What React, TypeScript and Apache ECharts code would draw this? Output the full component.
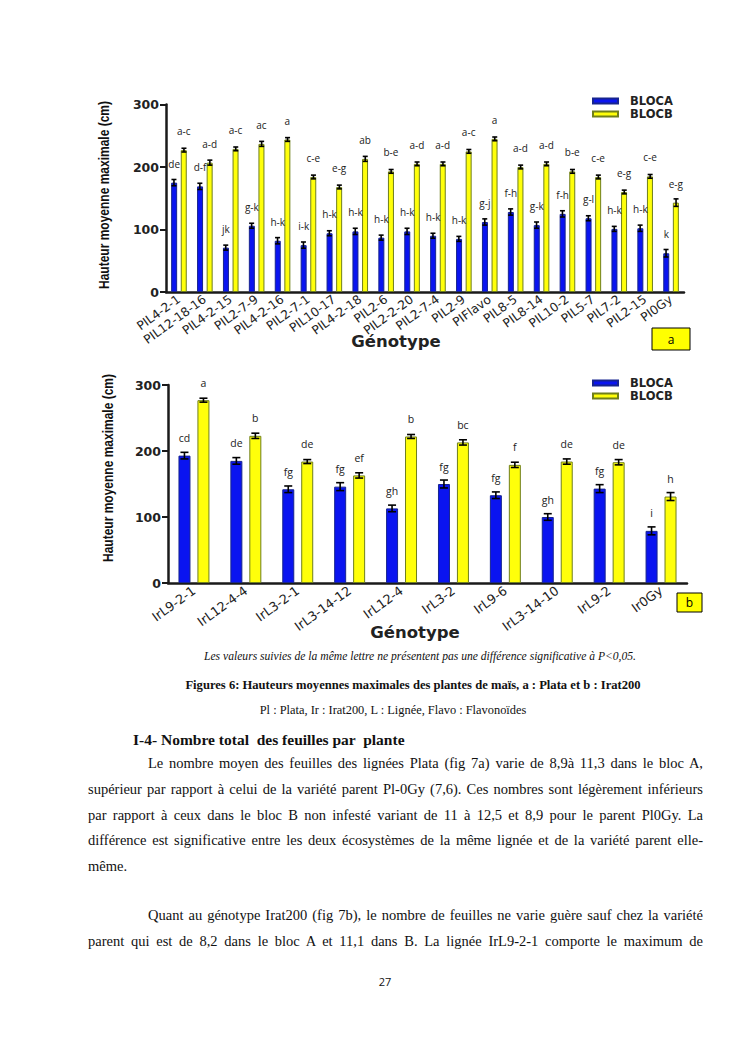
import React, { useEffect, useLayoutEffect, useRef } from "react";
import * as echarts from "echarts";

// ---------- Data ----------
const catsA = ["PIL4-2-1", "PIL12-18-16", "PIL4-2-15", "PIL2-7-9", "PIL4-2-16", "PIL2-7-1", "PIL10-17", "PIL4-2-18", "PIL2-6", "PIL2-2-20", "PIL2-7-4", "PIL2-9", "PIFlavo", "PIL8-5", "PIL8-14", "PIL10-2", "PIL5-7", "PIL7-2", "PIL2-15", "PI0Gy"];
const blocA_a = [175, 169, 71, 106, 82, 75, 94, 97, 87, 97, 90, 85, 112, 128, 107, 125, 118, 101, 102, 62];
const blocB_a = [227, 207, 229, 237, 244, 184, 168, 213, 193, 205, 205, 225, 245, 200, 205, 193, 184, 160, 185, 143];
const errA_a = [5, 5, 4, 4, 5, 5, 4, 5, 4, 5, 4, 4, 5, 5, 5, 5, 4, 4, 5, 6];
const errB_a = [3, 4, 3, 4, 3, 3, 3, 4, 3, 3, 3, 3, 3, 3, 3, 3, 3, 3, 3, 6];
const lettersA_a = ["de", "d-f", "jk", "g-k", "h-k", "i-k", "h-k", "h-k", "h-k", "h-k", "h-k", "h-k", "g-j", "f-h", "g-k", "f-h", "g-l", "h-k", "h-k", "k"];
const lettersB_a = ["a-c", "a-d", "a-c", "ac", "a", "c-e", "e-g", "ab", "b-e", "a-d", "a-d", "a-c", "a", "a-d", "a-d", "b-e", "c-e", "e-g", "c-e", "e-g"];

const catsB = ["IrL9-2-1", "IrL12-4-4", "IrL3-2-1", "IrL3-14-12", "IrL12-4", "IrL3-2", "IrL9-6", "IrL3-14-10", "IrL9-2", "Ir0Gy"];
const blocA_b = [193, 185, 142, 146, 113, 150, 133, 100, 143, 79];
const blocB_b = [277, 223, 184, 163, 222, 213, 179, 184, 183, 131];
const errA_b = [5, 5, 5, 6, 5, 6, 5, 5, 6, 6];
const errB_b = [3, 4, 3, 4, 3, 4, 4, 4, 4, 6];
const lettersA_b = ["cd", "de", "fg", "fg", "gh", "fg", "fg", "gh", "fg", "i"];
const lettersB_b = ["a", "b", "de", "ef", "b", "bc", "f", "de", "de", "h"];

const yTicks = [0, 100, 200, 300];
const yTitle = "Hauteur moyenne maximale (cm)";
const xTitle = "Génotype";
const seriesNames = ["BLOCA", "BLOCB"];

// ---------- Styles ----------
const BLUE = "#0a14f0";
const BLUE_BORDER = "#17248f";
const YELLOW = "#ffff0a";
const YELLOW_BORDER = "#6f7f1c";
const AXIS = "#1a1a1a";
const SANS = "DejaVu Sans";
const LETTER_FONT = "Open Sans";

function errorSeries(xIdx: number, vals: number[], errs: number[], offset: number, cap: number) {
  return {
    type: "custom",
    xAxisIndex: xIdx,
    yAxisIndex: xIdx,
    z: 5,
    silent: true,
    encode: { x: 0, y: 1 },
    data: vals.map((v, i) => [i, v, errs[i]]),
    renderItem: (params: any, api: any) => {
      const i = api.value(0);
      const v = api.value(1);
      const e = api.value(2);
      const top = api.coord([i, v + e]);
      const bot = api.coord([i, v - e]);
      const x = top[0] + offset;
      const st = { stroke: "#000", lineWidth: 1.6 };
      return {
        type: "group",
        children: [
          { type: "line", shape: { x1: x, y1: top[1], x2: x, y2: bot[1] }, style: st },
          { type: "line", shape: { x1: x - cap, y1: top[1], x2: x + cap, y2: top[1] }, style: st },
          { type: "line", shape: { x1: x - cap, y1: bot[1], x2: x + cap, y2: bot[1] }, style: st },
        ],
      };
    },
  };
}

function barSeries(name: string, xIdx: number, vals: number[], letters: string[], color: string, border: string, width: number, gap: string, fs: number, dist: number) {
  return {
    name,
    type: "bar",
    xAxisIndex: xIdx,
    yAxisIndex: xIdx,
    barWidth: width,
    barGap: gap,
    data: vals,
    itemStyle: { color, borderColor: border, borderWidth: 1 },
    label: {
      show: true,
      position: "top",
      distance: dist,
      formatter: (p: any) => letters[p.dataIndex],
      fontFamily: LETTER_FONT,
      fontSize: fs,
      color: "#222",
    },
  };
}

function xAxis(gridIndex: number, cats: string[], fs: number) {
  return {
    type: "category",
    gridIndex,
    data: cats,
    boundaryGap: true,
    axisLine: { lineStyle: { color: AXIS, width: 2.5 } },
    axisTick: { alignWithLabel: true, length: 4, lineStyle: { color: AXIS, width: 2 } },
    axisLabel: { interval: 0, rotate: 36, fontFamily: SANS, fontSize: fs, color: "#222", margin: 6 },
  };
}

function yAxis(gridIndex: number) {
  return {
    type: "value",
    gridIndex,
    min: yTicks[0],
    max: yTicks[yTicks.length - 1],
    interval: 100,
    splitLine: { show: false },
    axisLine: { show: true, lineStyle: { color: AXIS, width: 2.5 } },
    axisTick: { show: true, length: 6, lineStyle: { color: AXIS, width: 2 } },
    axisLabel: { fontFamily: SANS, fontSize: 12.5, fontWeight: "bold", color: "#222", margin: 7 },
  };
}

function yTitleText(x: number, y: number) {
  return {
    type: "text",
    x,
    y,
    rotation: Math.PI / 2,
    scaleX: 0.8,
    style: { text: yTitle, fontFamily: "Liberation Sans", fontWeight: "bold", fontSize: 15, fill: "#111", align: "center", verticalAlign: "middle" },
  };
}

function Charts() {
  const ref = useRef<HTMLDivElement>(null);
  useEffect(() => {
    if (!ref.current) return;
    const chart = echarts.init(ref.current, undefined, { renderer: "svg" });
    const legendBase = {
      orient: "vertical",
      left: 587,
      itemWidth: 25,
      itemHeight: 5,
      itemGap: 1,
      icon: "rect",
      data: seriesNames,
      selectedMode: false,
      textStyle: { fontFamily: SANS, fontSize: 11.5, fontWeight: "bold", color: "#222", padding: [0, 0, 0, 7] },
    };
    chart.setOption({
      animation: false,
      backgroundColor: "transparent",
      grid: [
        { left: 166, top: 104.5, width: 518, height: 187.5 },
        { left: 168, top: 385, width: 519, height: 198 },
      ],
      xAxis: [xAxis(0, catsA, 12.3), xAxis(1, catsB, 12.8)],
      yAxis: [yAxis(0), yAxis(1)],
      legend: [
        { ...legendBase, top: 90 },
        { ...legendBase, top: 372 },
      ],
      series: [
        barSeries(seriesNames[0], 0, blocA_a, lettersA_a, BLUE, BLUE_BORDER, 6, "60%", 10, 14),
        barSeries(seriesNames[1], 0, blocB_a, lettersB_a, YELLOW, YELLOW_BORDER, 6, "60%", 10, 14),
        errorSeries(0, blocA_a, errA_a, -5, 2.5),
        errorSeries(0, blocB_a, errB_a, 5, 2.5),
        barSeries(seriesNames[0], 1, blocA_b, lettersA_b, BLUE, BLUE_BORDER, 12, "58%", 10.5, 12),
        barSeries(seriesNames[1], 1, blocB_b, lettersB_b, YELLOW, YELLOW_BORDER, 12, "58%", 10.5, 12),
        errorSeries(1, blocA_b, errA_b, -9.5, 4),
        errorSeries(1, blocB_b, errB_b, 9.5, 4),
      ],
      graphic: [
        yTitleText(104, 195),
        yTitleText(108, 468),
        { type: "text", x: 396, y: 341, style: { text: xTitle, fontFamily: SANS, fontWeight: "bold", fontSize: 16.5, fill: "#222", align: "center", verticalAlign: "middle" } },
        { type: "text", x: 415, y: 632, style: { text: xTitle, fontFamily: SANS, fontWeight: "bold", fontSize: 16.5, fill: "#222", align: "center", verticalAlign: "middle" } },
        { type: "rect", shape: { x: 652, y: 328, width: 38, height: 22 }, style: { fill: "#ffff00", stroke: "#000", lineWidth: 1 } },
        { type: "text", x: 671, y: 339, style: { text: "a", fontFamily: LETTER_FONT, fontSize: 12, fill: "#000", align: "center", verticalAlign: "middle" } },
        { type: "rect", shape: { x: 677, y: 593, width: 25, height: 19 }, style: { fill: "#ffff00", stroke: "#000", lineWidth: 1 } },
        { type: "text", x: 689.5, y: 602.5, style: { text: "b", fontFamily: LETTER_FONT, fontSize: 12, fill: "#000", align: "center", verticalAlign: "middle" } },
      ],
    });
    return () => chart.dispose();
  }, []);
  return <div ref={ref} style={{ position: "absolute", left: 0, top: 0, width: 745, height: 650 }} />;
}

// ---------- Page text ----------
const BODY_LEFT = 88;
const BODY_RIGHT = 703;

function Line({ text, top, left, width, justify, style }: { text: string; top: number; left: number; width: number; justify: boolean; style?: React.CSSProperties }) {
  const spanRef = useRef<HTMLSpanElement>(null);
  useLayoutEffect(() => {
    const s = spanRef.current;
    if (!s) return;
    s.style.wordSpacing = "0px";
    s.style.transform = "";
    const w = s.getBoundingClientRect().width;
    if (w > width) {
      s.style.transformOrigin = "left center";
      s.style.transform = `scaleX(${width / w})`;
    } else if (justify) {
      const spaces = (text.match(/ /g) || []).length;
      if (spaces > 0) s.style.wordSpacing = `${(width - w) / spaces}px`;
    }
  }, [text, width, justify]);
  return (
    <div style={{ position: "absolute", top, left, width, height: 20, lineHeight: "20px", whiteSpace: "nowrap", ...style }}>
      <span ref={spanRef} style={{ display: "inline-block" }}>{text}</span>
    </div>
  );
}

const serif: React.CSSProperties = { fontFamily: "'Liberation Serif', 'Times New Roman', serif", fontSize: 14.5, color: "#111" };

const para1 = [
  "Le nombre moyen des feuilles des lignées Plata (fig 7a) varie de 8,9à 11,3 dans le bloc A,",
  "supérieur par rapport à celui de la variété parent Pl-0Gy (7,6). Ces nombres sont légèrement inférieurs",
  "par rapport à ceux dans le bloc B non infesté variant de 11 à 12,5 et 8,9 pour le parent Pl0Gy. La",
  "différence est significative entre les deux écosystèmes de la même lignée et de la variété parent elle-",
  "même.",
];
const para1Y = [763, 789, 815, 840, 866];
const para2 = [
  "Quant au génotype Irat200 (fig 7b), le nombre de feuilles ne varie guère sauf chez la variété",
  "parent qui est de 8,2 dans le bloc A et 11,1 dans B. La lignée IrL9-2-1 comporte le maximum de",
];
const para2Y = [915, 941];

export default function App() {
  return (
    <div style={{ position: "absolute", left: 0, top: 0, width: 745, height: 1053, background: "#fff", overflow: "hidden" }}>
      <Charts />
      <div style={{ position: "absolute", top: 647, left: 0, width: 840, height: 20, lineHeight: "20px", textAlign: "center", ...serif, fontSize: 11.6, fontStyle: "italic" }}>
        Les valeurs suivies de la même lettre ne présentent pas une différence significative à P&lt;0,05.
      </div>
      <div style={{ position: "absolute", top: 675, left: 0, width: 826, height: 20, lineHeight: "20px", textAlign: "center", ...serif, fontSize: 12.6, fontWeight: "bold" }}>
        Figures 6: Hauteurs moyennes maximales des plantes de maïs, a : Plata et b : Irat200
      </div>
      <div style={{ position: "absolute", top: 700, left: 0, width: 786, height: 20, lineHeight: "20px", textAlign: "center", ...serif, fontSize: 12.4 }}>
        Pl : Plata, Ir : Irat200, L : Lignée, Flavo : Flavonoïdes
      </div>
      <div style={{ position: "absolute", top: 730, left: 133, height: 20, lineHeight: "20px", whiteSpace: "pre", ...serif, fontSize: 15.5, fontWeight: "bold" }}>
        I-4- Nombre total  des feuilles par  plante
      </div>
      {para1.map((t, i) => (
        <Line key={"p1" + i} text={t} top={para1Y[i] - 10} left={i === 0 ? 148 : BODY_LEFT} width={i === 0 ? BODY_RIGHT - 148 : BODY_RIGHT - BODY_LEFT} justify={i < para1.length - 1} style={serif} />
      ))}
      {para2.map((t, i) => (
        <Line key={"p2" + i} text={t} top={para2Y[i] - 10} left={i === 0 ? 148 : BODY_LEFT} width={i === 0 ? BODY_RIGHT - 148 : BODY_RIGHT - BODY_LEFT} justify={true} style={serif} />
      ))}
      <div style={{ position: "absolute", top: 972, left: 370, width: 30, height: 20, lineHeight: "20px", textAlign: "center", fontFamily: "'Open Sans', sans-serif", fontSize: 11, color: "#111" }}>
        27
      </div>
    </div>
  );
}
